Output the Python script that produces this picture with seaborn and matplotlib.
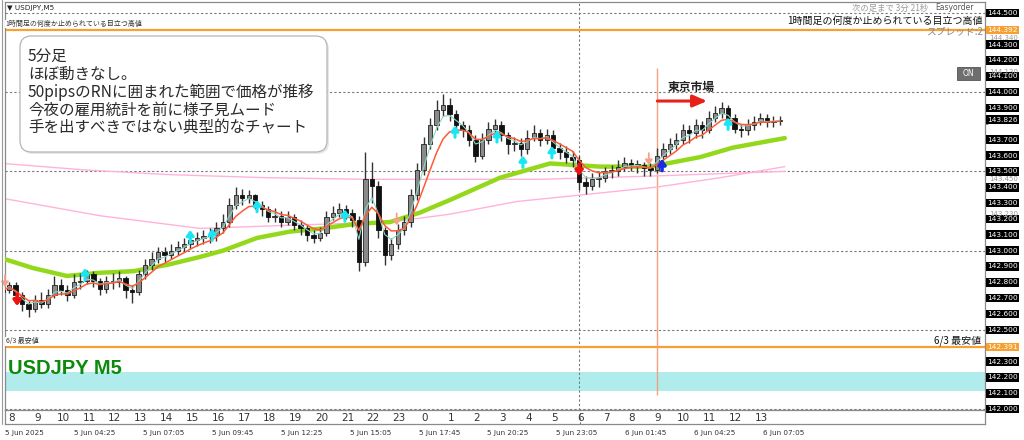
import numpy as np
import pandas as pd
import seaborn as sns
import matplotlib.pyplot as plt
from matplotlib.patches import FancyBboxPatch, Rectangle
import matplotlib.transforms as mtransforms

# 15 minute candles, x = JST hours counted from 5 Jun 00:00
t_start = 7.75
close = [142.75, 142.78, 142.72, 142.66, 142.63, 142.69, 142.66, 142.72, 142.78, 142.75,
         142.72, 142.80, 142.81, 142.85, 142.81, 142.76, 142.81, 142.80, 142.83, 142.75,
         142.74, 142.85, 142.91, 142.95, 142.99, 142.97, 143.00, 143.02, 143.04, 143.07,
         143.08, 143.09, 143.10, 143.14, 143.18, 143.29, 143.35, 143.33, 143.35, 143.29,
         143.26, 143.21, 143.22, 143.18, 143.21, 143.16, 143.14, 143.10, 143.08, 143.11,
         143.21, 143.24, 143.26, 143.24, 143.19, 142.93, 143.45, 143.41, 143.13, 142.97,
         143.04, 143.13, 143.18, 143.35, 143.51, 143.67, 143.79, 143.89, 143.92, 143.86,
         143.79, 143.76, 143.70, 143.60, 143.70, 143.77, 143.79, 143.73, 143.67, 143.68,
         143.64, 143.71, 143.74, 143.70, 143.73, 143.65, 143.62, 143.59, 143.57, 143.43,
         143.41, 143.45, 143.46, 143.50, 143.50, 143.53, 143.55, 143.54, 143.54, 143.52,
         143.51, 143.60, 143.64, 143.67, 143.70, 143.76, 143.74, 143.79, 143.76, 143.84,
         143.87, 143.90, 143.84, 143.77, 143.76, 143.79, 143.81, 143.84, 143.81, 143.82,
         143.826]
high = [142.79, 142.80, 142.80, 142.74, 142.68, 142.72, 142.74, 142.76, 142.84, 142.82,
        142.78, 142.85, 142.86, 142.88, 142.87, 142.83, 142.84, 142.86, 142.87, 142.84,
        142.78, 142.88, 142.95, 142.99, 143.02, 143.02, 143.04, 143.06, 143.08, 143.11,
        143.12, 143.13, 143.14, 143.18, 143.23, 143.33, 143.40, 143.39, 143.38, 143.36,
        143.31, 143.28, 143.27, 143.25, 143.25, 143.23, 143.19, 143.16, 143.13, 143.15,
        143.25, 143.28, 143.30, 143.29, 143.26, 143.22, 143.62, 143.56, 143.44, 143.15,
        143.08, 143.17, 143.22, 143.39, 143.55, 143.72, 143.84, 143.95, 143.99, 143.96,
        143.89, 143.82, 143.79, 143.73, 143.74, 143.81, 143.83, 143.82, 143.75, 143.72,
        143.71, 143.76, 143.79, 143.77, 143.77, 143.76, 143.68, 143.66, 143.63, 143.60,
        143.47, 143.49, 143.50, 143.53, 143.54, 143.57, 143.59, 143.58, 143.57, 143.56,
        143.55, 143.65, 143.68, 143.71, 143.74, 143.80, 143.79, 143.83, 143.82, 143.88,
        143.91, 143.94, 143.92, 143.86, 143.80, 143.83, 143.85, 143.87, 143.86, 143.85,
        143.85]
low = [142.71, 142.73, 142.70, 142.62, 142.58, 142.61, 142.64, 142.64, 142.70, 142.72,
       142.68, 142.70, 142.76, 142.79, 142.77, 142.72, 142.73, 142.76, 142.77, 142.70,
       142.67, 142.72, 142.82, 142.88, 142.92, 142.93, 142.95, 142.97, 142.99, 143.01,
       143.03, 143.04, 143.05, 143.06, 143.11, 143.15, 143.26, 143.29, 143.30, 143.26,
       143.22, 143.18, 143.18, 143.15, 143.16, 143.13, 143.10, 143.06, 143.05, 143.06,
       143.09, 143.19, 143.21, 143.20, 143.15, 142.87, 142.90, 143.30, 143.08, 142.91,
       142.94, 143.01, 143.10, 143.15, 143.32, 143.48, 143.64, 143.76, 143.85, 143.82,
       143.75, 143.72, 143.66, 143.56, 143.58, 143.67, 143.74, 143.69, 143.61, 143.63,
       143.60, 143.61, 143.69, 143.66, 143.67, 143.62, 143.58, 143.55, 143.53, 143.38,
       143.36, 143.38, 143.40, 143.43, 143.46, 143.47, 143.50, 143.50, 143.49, 143.47,
       143.47, 143.49, 143.57, 143.61, 143.64, 143.67, 143.68, 143.71, 143.71, 143.74,
       143.81, 143.84, 143.80, 143.74, 143.72, 143.73, 143.76, 143.79, 143.78, 143.78,
       143.79]
first_open = 142.74

# long moving averages
green_t = [7.75, 8.92, 10.23, 11.51, 12.79, 14.10, 15.37, 16.26, 17.57, 18.84, 20.12, 21.43,
           22.70, 23.86, 25.02, 26.95, 28.88, 30.81, 32.74, 33.39, 34.67, 35.94, 37.94]
green_p = [142.95, 142.89, 142.84, 142.86, 142.87, 142.91, 142.96, 143.00, 143.08, 143.12, 143.14, 143.17,
           143.18, 143.24, 143.32, 143.46, 143.55, 143.53, 143.53, 143.55, 143.59, 143.65, 143.71]
pink1_t = [7.75, 10.85, 14.10, 17.96, 21.82, 25.02, 28.49, 32.74, 37.94]
pink1_p = [143.55, 143.51, 143.48, 143.46, 143.45, 143.45, 143.45, 143.47, 143.50]
pink2_t = [7.75, 11.51, 15.37, 18.84, 22.70, 25.02, 27.60, 30.00, 32.96, 35.44, 37.94]
pink2_p = [143.33, 143.22, 143.14, 143.16, 143.18, 143.23, 143.31, 143.35, 143.40, 143.46, 143.53]

# signal arrows (tip position)
cyan_up_t = [10.93, 14.99, 15.84, 17.57, 20.96, 25.21, 26.83, 27.83, 28.95, 35.75]
cyan_up_p = [142.89, 143.13, 143.14, 143.32, 143.26, 143.79, 143.76, 143.60, 143.66, 143.84]
blue_up_t = [33.20]
blue_up_p = [143.58]
red_dn_t = [8.31, 30.00]
red_dn_p = [142.65, 143.47]
salmon_dn_t = [7.84, 22.96, 32.69]
salmon_dn_p = [142.77, 143.16, 143.54]

rn_levels = [144.5, 144.0, 143.5, 143.0, 142.5, 142.0]
resist_high = 144.392
support_low = 142.391
band_lo, band_hi = 142.115, 142.235
last_price = 143.826

hour_labels = ['8', '9', '10', '11', '12', '13', '14', '15', '16', '17', '18', '19', '20', '21', '22',
               '23', '0', '1', '2', '3', '4', '5', '6', '7', '8', '9', '10', '11', '12', '13']
date_labels = ['5 Jun 2025', '5 Jun 04:25', '5 Jun 07:05', '5 Jun 09:45', '5 Jun 12:25', '5 Jun 15:05',
               '5 Jun 17:45', '5 Jun 20:25', '5 Jun 23:05', '6 Jun 01:45', '6 Jun 04:25', '6 Jun 07:05']
price_labels = [144.5, 144.3, 144.2, 144.1, 144.0, 143.9, 143.7, 143.6, 143.5, 143.4, 143.3, 143.2,
                143.1, 143.0, 142.9, 142.8, 142.7, 142.6, 142.5, 142.3, 142.2, 142.1, 142.0]
ghost_labels = [144.340, 144.130, 143.450, 143.230]

memo_lines = ['5分足', 'ほぼ動きなし。', '50pipsのRNに囲まれた範囲で価格が推移',
              '今夜の雇用統計を前に様子見ムード', '手を出すべきではない典型的なチャート']

sns.set_theme(style='white')
plt.rcParams['font.family'] = ['Noto Sans CJK JP', 'DejaVu Sans']

W, H = 1024, 440
fig = plt.figure(figsize=(W / 100, H / 100), dpi=100)
fig.patch.set_facecolor('white')


def fx(x):
    return x / W


def fy(y):
    return 1 - y / H


ax = fig.add_axes([fx(5), fy(410), 980 / W, 408 / H])
strip = fig.add_axes([fx(5), fy(424), 980 / W, 14 / H])
xmin, xmax = 7.842, 45.665
ax.set_xlim(xmin, xmax)
ax.set_ylim(141.994, 144.569)
strip.set_xlim(xmin, xmax)
strip.set_ylim(0, 1)

df = pd.DataFrame({'close': close, 'high': high, 'low': low})
df['open'] = [first_open] + close[:-1]
df['t'] = t_start + 0.25 * np.arange(len(df))
df['ema_fast'] = df['close'].ewm(span=3).mean()
df['ema_slow'] = df['close'].ewm(span=6).mean()

# background levels
ax.axhspan(band_lo, band_hi, color='#b0ecec', lw=0, zorder=0)
for lv in rn_levels:
    ax.axhline(lv, color='#777777', lw=0.8, ls=(0, (2, 2)), zorder=1)
ax.axvline(30.0, color='#777777', lw=0.8, ls=(0, (2, 2)), zorder=1)
strip.axvline(30.0, color='#777777', lw=0.8, ls=(0, (2, 2)))
ax.axhline(resist_high, color='#f7a030', lw=1.6, zorder=2)
ax.axhline(support_low, color='#f7a030', lw=1.6, zorder=2)
ax.vlines(33.0, 142.088, 144.151, color='#f2a27e', lw=1, zorder=2)

# moving averages
sns.lineplot(x=pink1_t, y=pink1_p, ax=ax, color='#ffb3d9', lw=1, sort=False, estimator=None, zorder=2)
sns.lineplot(x=pink2_t, y=pink2_p, ax=ax, color='#ffb3d9', lw=1, sort=False, estimator=None, zorder=2)
sns.lineplot(x=green_t, y=green_p, ax=ax, color='#94d81c', lw=3.2, sort=False, estimator=None, zorder=3)

# candles
up = df['close'] >= df['open']
ax.vlines(df['t'], df['low'], df['high'], color='#333333', lw=1.0, zorder=4)
body_lo = df[['open', 'close']].min(axis=1)
body_h = (df['close'] - df['open']).abs().clip(lower=0.006)
ax.bar(df['t'][up], body_h[up], bottom=body_lo[up], width=0.17, color='#8a8a8a',
       edgecolor='#222222', lw=0.6, zorder=5)
ax.bar(df['t'][~up], body_h[~up], bottom=body_lo[~up], width=0.17, color='#111111',
       edgecolor='#111111', lw=0.6, zorder=5)

sns.lineplot(data=df, x='t', y='ema_fast', ax=ax, color='#8fd6c4', lw=0.8, zorder=6)
sns.lineplot(data=df, x='t', y='ema_slow', ax=ax, color='#ff5a36', lw=1.1, zorder=6)


def arrows(ts, ps, color, direction, lw=2.2):
    for t, p in zip(ts, ps):
        tail = p - 0.075 if direction > 0 else p + 0.075
        ax.annotate('', xy=(t, p), xytext=(t, tail), zorder=7,
                    arrowprops=dict(arrowstyle='-|>,head_width=0.18,head_length=0.25',
                                    color=color, lw=lw, shrinkA=0, shrinkB=0))


arrows(cyan_up_t, cyan_up_p, '#19e6f5', 1)
arrows(blue_up_t, blue_up_p, '#1a2ee0', 1, lw=2.6)
arrows(red_dn_t, red_dn_p, '#f01010', -1, lw=2.6)
arrows(salmon_dn_t, salmon_dn_p, '#f7a08a', -1, lw=1.3)

# Tokyo session marker
ax.text(33.43, 144.03, '東京市場', fontsize=8.5, fontweight='bold', color='#222222',
        ha='left', va='center', zorder=8)
ax.annotate('', xy=(34.94, 143.944), xytext=(33.02, 143.944), zorder=8,
            arrowprops=dict(arrowstyle='-|>,head_width=0.3,head_length=0.7', color='#e8201a',
                            lw=2.2, shrinkA=0, shrinkB=0))

# level labels
ax.text(xmin + 0.02, resist_high + 0.012, '1時間足の何度か止められている目立つ高値', fontsize=5,
        color='#333333', ha='left', va='bottom', zorder=8,
        bbox=dict(boxstyle='square,pad=0.05', fc='white', ec='none'))
ax.text(xmin + 0.02, support_low + 0.012, '6/3 最安値', fontsize=5, color='#333333',
        ha='left', va='bottom', zorder=8, bbox=dict(boxstyle='square,pad=0.05', fc='white', ec='none'))
fig.text(fx(983), fy(21), '1時間足の何度か止められている目立つ高値', fontsize=7.2, color='#111111',
         ha='right', va='center')
fig.text(fx(928), fy(8), '次の足まで 3分 21秒', fontsize=6, color='#999999', ha='right', va='center')
fig.text(fx(983), fy(31), 'スプレッド:2', fontsize=7, color='#888888', ha='right', va='center')
fig.text(fx(981), fy(341), '6/3 最安値', fontsize=7.2, color='#111111', ha='right', va='center')
fig.text(fx(935), fy(7), 'Easyorder', fontsize=5.5, color='#555555', ha='left', va='center',
         family='DejaVu Sans')
fig.text(fx(7), fy(8), '▼ USDJPY,M5', fontsize=5.2, color='#222222', ha='left', va='center',
         family='DejaVu Sans')

# ON button
fig.patches.append(Rectangle((fx(957), fy(80)), 23 / W, 13 / H, transform=fig.transFigure,
                             fc='#6e6e6e', ec='#555555', lw=0.6))
fig.text(fx(968.5), fy(73.5), 'ON', fontsize=5.5, color='white', ha='center', va='center',
         family='DejaVu Sans')

# symbol caption
ax.text(xmin + 0.12, 142.253, 'USDJPY M5', fontsize=14.5, fontweight='bold', color='#0b8a0b',
        family='Liberation Sans', ha='left', va='center', zorder=8)

# memo box
asp = W / H
fig.patches.append(FancyBboxPatch((fx(22), fy(154)), 307 / W, 116 / H, transform=fig.transFigure,
                                  boxstyle='round,pad=0,rounding_size=0.011', mutation_aspect=asp,
                                  fc='#d0d0d0', ec='none', alpha=0.5, zorder=9))
fig.patches.append(FancyBboxPatch((fx(20), fy(152)), 307 / W, 116 / H, transform=fig.transFigure,
                                  boxstyle='round,pad=0,rounding_size=0.011', mutation_aspect=asp,
                                  fc='white', ec='#b5b5b5', lw=0.9, zorder=10))
for k, line in enumerate(memo_lines):
    fig.text(fx(28), fy(56 + 18 * k), line, fontsize=11.2, color='#2a2a2a', ha='left',
             va='center', zorder=11)

# right price scale
trans = mtransforms.blended_transform_factory(ax.transAxes, ax.transData)
for p in price_labels:
    ax.text(1.002, p, f'{p:.3f}', transform=trans, fontsize=5.3, color='white', ha='left',
            va='center', family='DejaVu Sans', clip_on=False,
            bbox=dict(boxstyle='square,pad=0.18', fc='black', ec='none'))
for p in ghost_labels:
    ax.text(1.004, p, f'{p:.3f}', transform=trans, fontsize=5, color='#999999', ha='left',
            va='center', family='DejaVu Sans', clip_on=False)
for p, fc in [(resist_high, '#f7a030'), (support_low, '#f7a030'), (last_price, 'black')]:
    ax.text(1.002, p, f'{p:.3f}', transform=trans, fontsize=5.3, color='white', ha='left',
            va='center', family='DejaVu Sans', clip_on=False,
            bbox=dict(boxstyle='square,pad=0.18', fc=fc, ec='none'))
ax.yaxis.tick_right()
ax.set_yticks(np.arange(142.0, 144.55, 0.1))
ax.tick_params(axis='y', length=2, width=0.6, color='#777777', labelright=False, labelleft=False)
ax.set_xticks([])
ax.set_xlabel('')
ax.set_ylabel('')

# hour strip and broker time labels
for k, lab in enumerate(hour_labels):
    strip.text(8 + k, 0.45, lab, fontsize=7.5, color='#333333', ha='center', va='center',
               family='DejaVu Sans')
date_t = [7.75 + k * 160 / 60 for k in range(len(date_labels))]
strip.set_xticks(date_t)
strip.set_xticklabels(date_labels, fontsize=5.2, ha='left', family='DejaVu Sans', color='#333333')
strip.tick_params(axis='x', length=3, width=0.6, pad=1.5, color='#555555')
strip.set_yticks([])

for a in (ax, strip):
    for s in a.spines.values():
        s.set_color('#8a8a8a')
        s.set_linewidth(0.9)
    a.set_facecolor('white')

fig.add_artist(plt.Line2D([fx(1.5), fx(1.5)], [fy(0), fy(424)], color='#999999', lw=0.8))

fig.savefig('out.png', dpi=100, facecolor='white')
